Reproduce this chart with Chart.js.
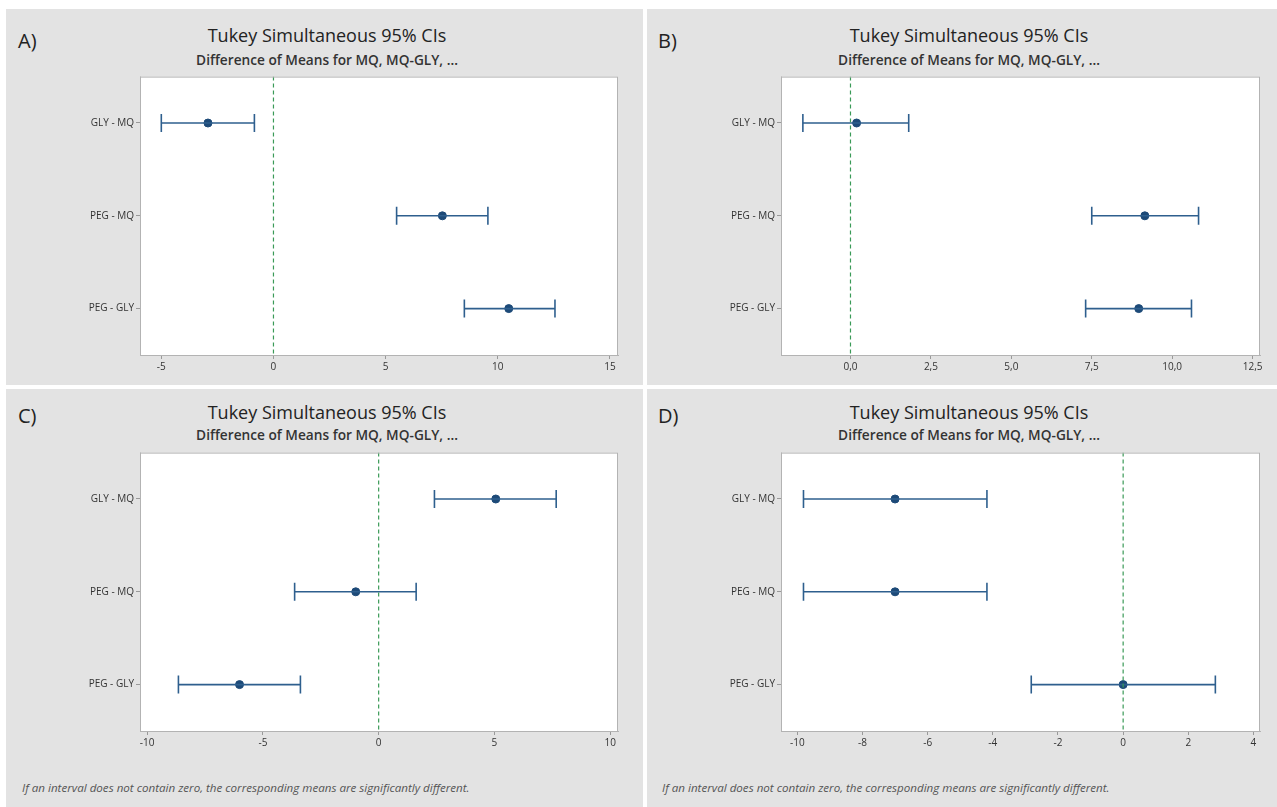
<!DOCTYPE html>
<html>
<head>
<meta charset="utf-8">
<script src="https://cdn.jsdelivr.net/npm/chart.js@4.4.0/dist/chart.umd.min.js"></script>
<style>
  body { margin: 0; width: 1277px; height: 807px; background: #fff; position: relative; overflow: hidden; font-family: "Open Sans", "Noto Sans", sans-serif; }
  .panel { position: absolute; background: #e3e3e3; }
  .tag { position: absolute; font-size: 20px; color: #222; }
  .ttl { position: absolute; width: 642px; text-align: center; font-size: 18px; color: #222; }
  .sub { position: absolute; width: 642px; text-align: center; font-size: 13.7px; font-weight: 600; color: #333; }
  .note { position: absolute; font-size: 11.6px; font-style: italic; color: #555; }
  canvas { position: absolute; }
</style>
</head>
<body>
<div class="panel" style="left:6px;top:9px;width:637px;height:376px"></div>
<div class="panel" style="left:647px;top:9px;width:630px;height:376px"></div>
<div class="panel" style="left:6px;top:389px;width:637px;height:418px"></div>
<div class="panel" style="left:647px;top:389px;width:630px;height:418px"></div>

<div class="tag" style="left:18px;top:27px">A)</div>
<div class="tag" style="left:658px;top:27px">B)</div>
<div class="tag" style="left:18px;top:402px">C)</div>
<div class="tag" style="left:658px;top:402px">D)</div>

<div class="ttl" style="left:6px;top:23px">Tukey Simultaneous 95% CIs</div>
<div class="sub" style="left:6px;top:50px">Difference of Means for MQ, MQ-GLY, ...</div>
<div class="ttl" style="left:648px;top:23px">Tukey Simultaneous 95% CIs</div>
<div class="sub" style="left:648px;top:50px">Difference of Means for MQ, MQ-GLY, ...</div>
<div class="ttl" style="left:6px;top:400px">Tukey Simultaneous 95% CIs</div>
<div class="sub" style="left:6px;top:425px">Difference of Means for MQ, MQ-GLY, ...</div>
<div class="ttl" style="left:648px;top:400px">Tukey Simultaneous 95% CIs</div>
<div class="sub" style="left:648px;top:425px">Difference of Means for MQ, MQ-GLY, ...</div>

<div class="note" style="left:22px;top:780px">If an interval does not contain zero, the corresponding means are significantly different.</div>
<div class="note" style="left:662px;top:780px">If an interval does not contain zero, the corresponding means are significantly different.</div>

<canvas id="chartA" width="570" height="319" style="left:60px;top:66px"></canvas>
<canvas id="chartB" width="571" height="319" style="left:701px;top:66px"></canvas>
<canvas id="chartC" width="570" height="319" style="left:60px;top:442px"></canvas>
<canvas id="chartD" width="571" height="319" style="left:701px;top:442px"></canvas>

<script>
// comparisons (rows top to bottom)
const categories = ['GLY - MQ', 'PEG - MQ', 'PEG - GLY'];

// A)
const lowerA = [-5.0, 5.49, 8.51];
const meanA  = [-2.92, 7.53, 10.49];
const upperA = [-0.85, 9.56, 12.55];
// B)
const lowerB = [-1.48, 7.50, 7.31];
const meanB  = [0.19, 9.15, 8.96];
const upperB = [1.81, 10.82, 10.60];
// C)
const lowerC = [2.41, -3.63, -8.65];
const meanC  = [5.06, -0.99, -6.01];
const upperC = [7.67, 1.62, -3.38];
// D)
const lowerD = [-9.81, -9.81, -2.82];
const meanD  = [-7.0, -7.0, 0.0];
const upperD = [-4.18, -4.18, 2.83];

// x axis: [min, max, step]
const axisA = [-5.95, 15.36, 5];
const axisB = [-2.16, 12.73, 2.5];
const axisC = [-10.31, 10.34, 5];
const axisD = [-10.5, 4.2, 2];

const lineColor = '#2e5f8e';
const dotColor = '#1d4a78';
const zeroColor = '#3a9a57';

// white plot area with grey frame
const frame = {
    id: 'frame',
    beforeDatasetsDraw(chart) {
        const { ctx, chartArea: a } = chart;
        ctx.save();
        ctx.fillStyle = '#fff';
        ctx.fillRect(a.left, a.top, a.right - a.left, a.bottom - a.top);
        ctx.restore();
    },
    afterDraw(chart) {
        const { ctx, chartArea: a } = chart;
        ctx.save();
        ctx.strokeStyle = '#b3b3b3';
        ctx.lineWidth = 1;
        ctx.strokeRect(a.left + 0.5, a.top + 0.5, a.right - a.left - 1, a.bottom - a.top);
        ctx.restore();
    }
};

function makeChart(id, lower, mean, upper, axis, fmt) {
    const datasets = [{
        type: 'line',
        data: [{ x: 0, y: -0.5 }, { x: 0, y: 2.5 }],
        borderColor: zeroColor,
        borderWidth: 1.2,
        borderDash: [4, 3],
        pointRadius: 0
    }];
    categories.forEach((c, i) => {
        datasets.push({
            type: 'line',
            data: [{ x: lower[i], y: i }, { x: upper[i], y: i }],
            borderColor: lineColor,
            borderWidth: 1.6,
            pointStyle: 'line',
            rotation: 90,
            pointRadius: 9,
            pointBorderWidth: 1.6,
            pointBorderColor: lineColor
        });
    });
    datasets.push({
        type: 'scatter',
        data: mean.map((m, i) => ({ x: m, y: i })),
        pointRadius: 4,
        pointBackgroundColor: dotColor,
        pointBorderColor: dotColor
    });

    return new Chart(document.getElementById(id), {
        type: 'scatter',
        data: { datasets },
        options: {
            responsive: false,
            animation: false,
            devicePixelRatio: 1,
            layout: { padding: { top: 2, right: 12, left: 0, bottom: 0 } },
            plugins: { legend: { display: false }, tooltip: { enabled: false } },
            scales: {
                x: {
                    type: 'linear',
                    min: axis[0],
                    max: axis[1],
                    afterFit: s => { s.height = 30; },
                    ticks: {
                        stepSize: axis[2],
                        includeBounds: false,
                        color: '#333',
                        font: { family: 'Open Sans', size: 10 },
                        padding: 2,
                        maxRotation: 0,
                        callback: fmt
                    },
                    grid: { drawOnChartArea: false, drawTicks: true, tickLength: 4, color: '#999' },
                    border: { display: true, color: '#b3b3b3' }
                },
                y: {
                    type: 'linear',
                    min: -0.5,
                    max: 2.5,
                    reverse: true,
                    afterFit: s => { s.width = 80; },
                    afterBuildTicks: s => { s.ticks = [0, 1, 2].map(v => ({ value: v })); },
                    ticks: {
                        color: '#333',
                        font: { family: 'Open Sans', size: 10 },
                        padding: 2,
                        callback: v => categories[v]
                    },
                    grid: { drawOnChartArea: false, drawTicks: true, tickLength: 4, color: '#999' },
                    border: { display: true, color: '#b3b3b3' }
                }
            }
        },
        plugins: [frame]
    });
}

const intFmt = v => String(v);
const commaFmt = v => v.toFixed(1).replace('.', ',');

makeChart('chartA', lowerA, meanA, upperA, axisA, intFmt);
makeChart('chartB', lowerB, meanB, upperB, axisB, commaFmt);
makeChart('chartC', lowerC, meanC, upperC, axisC, intFmt);
makeChart('chartD', lowerD, meanD, upperD, axisD, intFmt);
</script>
</body>
</html>
